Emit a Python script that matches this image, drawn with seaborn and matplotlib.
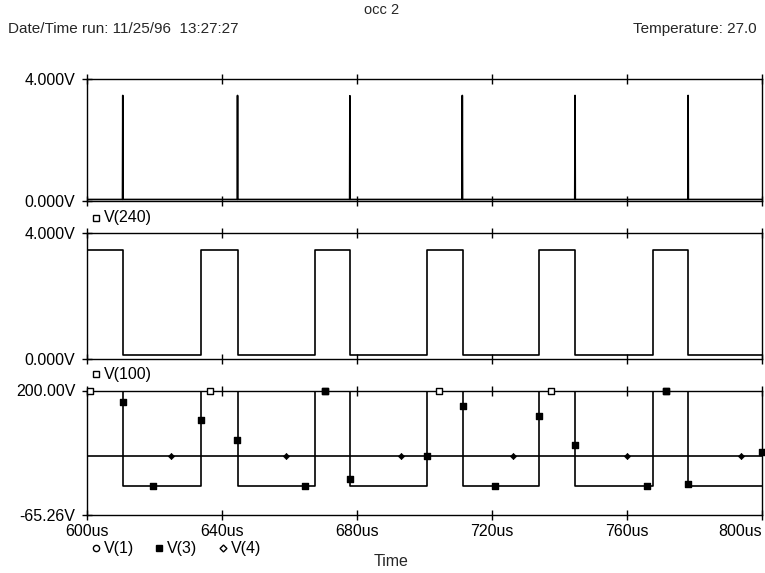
import numpy as np
import pandas as pd
import matplotlib
matplotlib.use('Agg')
import matplotlib.pyplot as plt
import seaborn as sns
from matplotlib.lines import Line2D

sns.set_style('white')
plt.rcParams['font.family'] = ['Liberation Sans', 'DejaVu Sans']

# ---------------- data ----------------
edge_times = [610.6, 633.8, 644.6, 667.5, 678.0, 700.8, 711.3, 734.0, 744.6, 767.6, 778.1]
spike_times = [610.6, 644.6, 677.9, 711.2, 744.6, 778.1]
spike_peaks = [3.46, 3.46, 3.45, 3.46, 3.46, 3.46]
v240_base = 0.05
v100_high, v100_low = 3.46, 0.13
v3_high, v3_low = 200.0, -3.0
v1_level = 200.0
v4_level = 60.0

v1_mark_t = [600.9, 636.3, 670.6, 704.2, 737.6, 771.5]
v3_mark_t = [610.6, 619.6, 633.8, 644.5, 664.7, 670.6, 678.0, 700.8, 711.4, 721.0,
             734.0, 744.5, 765.8, 771.5, 778.0, 800.0]
v3_mark_v = [176.5, -3.0, 137.5, 94.8, -3.0, 200.0, 11.0, 60.0, 167.0, -3.0,
             146.6, 83.5, -3.0, 200.0, 0.0, 70.0]
v4_mark_t = [624.9, 659.0, 692.9, 726.3, 760.0, 793.8]

x_ticks = [600, 640, 680, 720, 760, 800]
x_tick_labels = ['600us', '640us', '680us', '720us', '760us', '800us']
p1_yticks, p1_ylabels = [0.0, 4.0], ['0.000V', '4.000V']
p2_yticks, p2_ylabels = [0.0, 4.0], ['0.000V', '4.000V']
p3_yticks, p3_ylabels = [-65.26, 200.0], ['-65.26V', '200.00V']
t_start, t_end = 600.0, 800.0


def square(edges, hi, lo):
    t, v, cur = [t_start], [hi], hi
    for e in edges:
        nxt = lo if cur == hi else hi
        t += [e, e]
        v += [cur, nxt]
        cur = nxt
    t.append(t_end)
    v.append(cur)
    return pd.DataFrame({'t': t, 'v': v})


def spikes(times, peaks, base):
    t, v = [t_start], [base]
    for s, p in zip(times, peaks):
        t += [s - 0.08, s, s + 0.08]
        v += [base, p, base]
    t.append(t_end)
    v.append(base)
    return pd.DataFrame({'t': t, 'v': v})


df240 = spikes(spike_times, spike_peaks, v240_base)
df100 = square(edge_times, v100_high, v100_low)
df3 = square(edge_times, v3_high, v3_low)
df1 = pd.DataFrame({'t': [t_start, t_end], 'v': [v1_level, v1_level]})
df4 = pd.DataFrame({'t': [t_start, t_end], 'v': [v4_level, v4_level]})
m1 = pd.DataFrame({'t': v1_mark_t, 'v': [v1_level] * len(v1_mark_t)})
m3 = pd.DataFrame({'t': v3_mark_t, 'v': v3_mark_v})
m4 = pd.DataFrame({'t': v4_mark_t, 'v': [v4_level] * len(v4_mark_t)})

W, H = 765, 573
fig = plt.figure(figsize=(W / 100, H / 100), dpi=100)


def fx(px):
    return px / W


def fy(py):
    return 1 - py / H


left, right = 87, 762
panels = [(79, 201), (233, 359), (390.5, 515)]
axes = []
for top, bot in panels:
    ax = fig.add_axes([fx(left), fy(bot), fx(right - left), (bot - top) / H])
    axes.append(ax)

FS = 11.5
for i, ax in enumerate(axes):
    ax.set_xlim(t_start, t_end)
    for s in ax.spines.values():
        s.set_color('black')
        s.set_linewidth(1.0)
        s.set_visible(True)
    ax.set_xticks(x_ticks)
    ax.tick_params(axis='x', which='major', direction='inout', length=7, width=1,
                   top=True, bottom=True, labelbottom=(i == 2), pad=3,
                   labelsize=FS, colors='black')
    ax.tick_params(axis='y', which='major', direction='inout', length=7, width=1,
                   left=True, right=False, pad=5, labelsize=FS, colors='black')

lw = 1.2
ax1, ax2, ax3 = axes
sns.lineplot(data=df240, x='t', y='v', ax=ax1, estimator=None, sort=False, color='black', lw=lw)
ax1.set_ylim(0, 4)
ax1.set_yticks(p1_yticks)
ax1.set_yticklabels(p1_ylabels)

sns.lineplot(data=df100, x='t', y='v', ax=ax2, estimator=None, sort=False, color='black', lw=lw)
ax2.set_ylim(0, 4)
ax2.set_yticks(p2_yticks)
ax2.set_yticklabels(p2_ylabels)

sns.lineplot(data=df1, x='t', y='v', ax=ax3, estimator=None, sort=False, color='black', lw=lw)
sns.lineplot(data=df4, x='t', y='v', ax=ax3, estimator=None, sort=False, color='black', lw=lw)
sns.lineplot(data=df3, x='t', y='v', ax=ax3, estimator=None, sort=False, color='black', lw=lw)
sns.scatterplot(data=m1, x='t', y='v', ax=ax3, marker='s', s=18, facecolor='white',
                edgecolor='black', linewidth=1.0, zorder=5, clip_on=False)
sns.scatterplot(data=m3, x='t', y='v', ax=ax3, marker='s', s=18, color='black',
                edgecolor='black', linewidth=1.0, zorder=6, clip_on=False)
sns.scatterplot(data=m4, x='t', y='v', ax=ax3, marker='D', s=10, color='black',
                edgecolor='black', linewidth=0.5, zorder=6, clip_on=False)
ax3.set_ylim(p3_yticks[0], p3_yticks[1])
ax3.set_yticks(p3_yticks)
ax3.set_yticklabels(p3_ylabels)
ax3.set_xticklabels(x_tick_labels)
ax3.get_xticklabels()[-1].set_horizontalalignment('right')
for ax in axes:
    ax.set_xlabel('')
    ax.set_ylabel('')
    if ax.get_legend():
        ax.get_legend().remove()


def legend_item(xm, xt, y, label, marker, filled, ms=5):
    fig.add_artist(Line2D([fx(xm)], [fy(y)], marker=marker, ms=ms, ls='none',
                          mfc='black' if filled else 'white', mec='black', mew=1.0,
                          transform=fig.transFigure))
    fig.text(fx(xt), fy(y), label, fontsize=11.5, ha='left', va='center', color='black')


legend_item(95.5, 104, 218, 'V(240)', 's', False, 4.5)
legend_item(95.5, 104, 374, 'V(100)', 's', False, 4.5)
legend_item(95.5, 104, 548, 'V(1)', 'o', False, 4.5)
legend_item(159, 167, 548, 'V(3)', 's', True, 4)
legend_item(223, 231, 548, 'V(4)', 'D', False, 3.5)

fig.text(fx(391), fy(562), 'Time', fontsize=11.5, ha='center', va='center')
fig.text(fx(382), fy(10), 'occ 2', fontsize=10.5, ha='center', va='center')
fig.text(fx(8), fy(29), 'Date/Time run: 11/25/96  13:27:27', fontsize=11, ha='left', va='center')
fig.text(fx(757), fy(29), 'Temperature: 27.0', fontsize=11, ha='right', va='center')

fig.savefig('out.png', dpi=100, facecolor='white')
